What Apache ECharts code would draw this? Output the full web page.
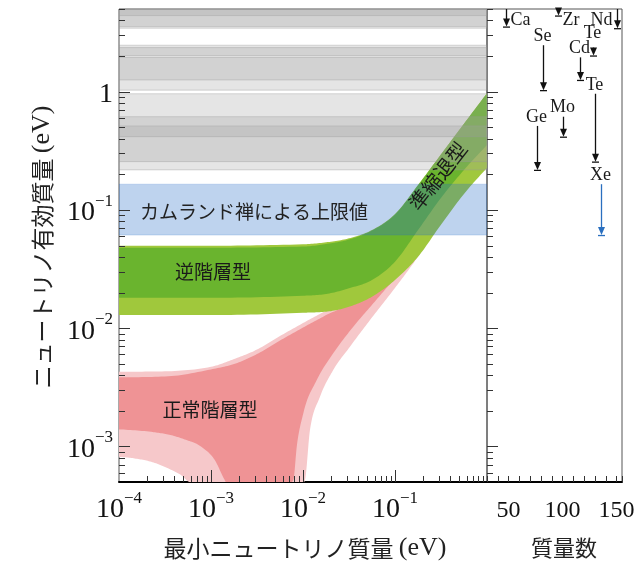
<!DOCTYPE html>
<html><head><meta charset="utf-8">
<script src="https://cdn.jsdelivr.net/npm/echarts@6/dist/echarts.min.js"></script>
<style>html,body{margin:0;padding:0;background:#fff}#c{width:638px;height:563px}</style>
</head><body><div id="c"></div>
<script>
// ---------------- data ----------------
// Inverted hierarchy band (m_lightest [eV], m_bb [eV])
const ihOuterUpper = [[1e-4,0.0498],[1e-3,0.0498],[1e-2,0.0512],[0.0178,0.0532],[0.0316,0.0575],[0.0562,0.0676],[0.1,0.0923],[0.178,0.1626],[0.316,0.295],[0.562,0.536],[1,0.969]];
const ihInnerUpper = [[1e-4,0.0479],[1e-3,0.0479],[1e-2,0.0490],[0.0178,0.0515],[0.0316,0.0562],[0.0562,0.0668],[0.1,0.0912],[0.178,0.1614],[0.316,0.294],[0.562,0.535],[1,0.969]];
const ihInnerLower = [[1e-4,0.01807],[1e-3,0.01807],[1e-2,0.01879],[0.0178,0.01945],[0.0316,0.02173],[0.0562,0.02553],[0.1,0.03648],[0.178,0.0676],[0.316,0.1262],[0.562,0.2178],[1,0.354]];
const ihOuterLower = [[1e-4,0.01291],[1e-3,0.01291],[1e-2,0.01349],[0.0178,0.01377],[0.0316,0.01517],[0.0562,0.01845],[0.1,0.02553],[0.178,0.0402],[0.316,0.0750],[0.562,0.1365],[1,0.226]];
// Normal hierarchy band
const nhOuterUpper = [[1e-4,0.004276],[3.16e-4,0.004315],[1e-3,0.00471],[1.78e-3,0.005478],[3.16e-3,0.006592],[5.62e-3,0.008576],[1e-2,0.011043],[0.0178,0.014088],[0.0316,0.018327],[0.0562,0.0355],[0.1,0.0631],[0.178,0.112],[0.316,0.1995],[0.562,0.355],[1,0.631]];
const nhInnerUpper = [[1e-4,0.003837],[3.16e-4,0.0039],[1e-3,0.004477],[1.78e-3,0.00497],[3.16e-3,0.006038],[5.62e-3,0.007855],[1e-2,0.010118],[0.0178,0.0129],[0.0316,0.016626],[0.0562,0.0331],[0.1,0.0603],[0.178,0.107],[0.316,0.1905],[0.562,0.339],[1,0.603]];
const nhInnerLower = [[1e-4,0.001393],[2.24e-4,0.001327],[3.41e-4,0.001262],[5.18e-4,0.001146],[7.85e-4,0.000993],[1.10e-3,0.000766],[1.41e-3,0.000519],[1.45e-3,0.0005],[7.5e-3,0.0005],[7.85e-3,0.000519],[8.55e-3,0.000993],[1.007e-2,0.001901],[0.0141,0.00364],[0.0213,0.00612],[0.0352,0.01028],[0.0581,0.01622],[0.0959,0.02553],[0.158,0.0402],[0.316,0.0891],[0.562,0.158],[1,0.251]];
const nhOuterLower = [[1e-4,0.000817],[1.48e-4,0.000791],[2.24e-4,0.000741],[3.41e-4,0.000652],[4.75e-4,0.000571],[5.92e-4,0.0005],[1.03e-2,0.0005],[1.05e-2,0.000519],[1.19e-2,0.001374],[0.0153,0.00263],[0.0213,0.00442],[0.0324,0.00697],[0.0535,0.01172],[0.0959,0.0210],[0.158,0.0353],[0.316,0.0776],[0.562,0.141],[1,0.234]];

// Double-beta decay limits per isotope
const isoNames = ['Ca','Ge','Se','Zr','Mo','Cd','Te','Te','Xe','Nd'];
const isoMass  = [48, 76, 82, 96, 100, 116, 128, 130, 136, 150];
const isoUpper = [10, 0.513, 2.47, 10, 0.614, 1.95, 2.36, 0.96, 0.165, 10];
const isoLower = [3.55, 0.218, 1.03, 4.4, 0.416, 1.256, 2.02, 0.256, 0.0613, 3.44];

// tick labels / ticks
const minorMantissas = [2,3,4,5,6,7,8,9];
const xDecades = [1e-4,1e-3,1e-2,1e-1];
const yDecades = [1e-4,1e-3,1e-2,1e-1,1];
const xMajorTicks = [1e-3,1e-2,1e-1];
const yMajorTicks = [1e-3,1e-2,1e-1,1];
const massTickLabels = [50,100,150];

// ---------------- layout / style ----------------
const X_MIN=1e-4, X_MAX=1, Y_MIN=5e-4, Y_MAX=5;
const xMinorTicks = [], yMinorTicks = [];
xDecades.forEach(d=>minorMantissas.forEach(k=>xMinorTicks.push(k*d)));
yDecades.forEach(d=>minorMantissas.forEach(k=>{const v=k*d; if(v>Y_MIN*1.0001 && v<Y_MAX*1.0001) yMinorTicks.push(v);}));

const labelMode = ['right','above','above','right','above','above','above','above','above','left'];
const labelGap  = [0, 9, 9, 0, 9, 9, 14, 8, 9, 0];
const arrowColor = ['#111','#111','#111','#111','#111','#111','#111','#111','#2a6fbf','#111'];
const bandFill = i => (isoNames[i]==='Xe' ? 'rgba(40,110,200,0.30)' : 'rgba(160,160,160,0.28)');

const SERIF = 'Liberation Serif';
const CJK = 'Noto Sans CJK JP';

function isPow10(v){const l=Math.log10(v);return Math.abs(l-Math.round(l))<1e-6;}
function powLabel(v, skipZero){
  const e=Math.round(Math.log10(v));
  if(!isPow10(v)) return '';
  if(e===0) return skipZero ? '' : '{b|1}';
  return '{b|10}{s|\u2212'+(-e)+'}';
}
const richLbl = {
  b:{fontFamily:SERIF,fontSize:28,color:'#111',lineHeight:34,verticalAlign:'bottom'},
  s:{fontFamily:SERIF,fontSize:17,color:'#111',lineHeight:17,verticalAlign:'top'}
};

// monotone cubic smoothing of pixel points (rendering only)
function smoothPts(pts){
  const n=pts.length; if(n<3) return pts.slice();
  const h=[], s=[], t=new Array(n);
  for(let i=0;i<n-1;i++){h[i]=pts[i+1][0]-pts[i][0]; s[i]=h[i]>1e-9?(pts[i+1][1]-pts[i][1])/h[i]:0;}
  for(let i=1;i<n-1;i++){
    const s0=s[i-1], s1=s[i], h0=h[i-1], h1=h[i];
    const p=(s0*h1+s1*h0)/((h0+h1)||1);
    t[i]=(Math.sign(s0)+Math.sign(s1))*Math.min(Math.abs(s0),Math.abs(s1),0.5*Math.abs(p))||0;
  }
  t[0]=(3*s[0]-t[1])/2; t[n-1]=(3*s[n-2]-t[n-2])/2;
  const out=[pts[0]];
  for(let i=0;i<n-1;i++){
    const [x0,y0]=pts[i], [x1,y1]=pts[i+1], hh=h[i];
    const c1=[x0+hh/3, y0+t[i]*hh/3], c2=[x1-hh/3, y1-t[i+1]*hh/3];
    const N=14;
    for(let k=1;k<=N;k++){
      const u=k/N, a=(1-u)*(1-u)*(1-u), b=3*(1-u)*(1-u)*u, c=3*(1-u)*u*u, d=u*u*u;
      out.push([a*x0+b*c1[0]+c*c2[0]+d*x1, a*y0+b*c1[1]+c*c2[1]+d*y1]);
    }
  }
  return out;
}

function polySeries(upper, lower, color, z){
  return {
    type:'custom', xAxisIndex:0, yAxisIndex:0, z:z, silent:true, clip:true,
    data:[[upper[0][0], upper[0][1]]],
    renderItem:function(params, api){
      const up = smoothPts(upper.map(p=>api.coord(p)));
      const lo = smoothPts(lower.map(p=>api.coord(p))).reverse();
      return {type:'polygon', shape:{points:up.concat(lo)}, style:{fill:color}};
    }
  };
}

function tickSeries(xi, values, dir, len, z){
  return {
    type:'custom', xAxisIndex:xi, yAxisIndex:xi, z:z, silent:true, clip:false,
    data: values.map(v=> dir==='x' ? [v, 1] : [xi===0?1e-2:100, v]),
    renderItem:function(params, api){
      const cs = params.coordSys;
      const p = api.coord([api.value(0), api.value(1)]);
      if(dir==='x'){
        const b = cs.y+cs.height, x=Math.round(p[0])+0.5;
        return {type:'line', shape:{x1:x,y1:b,x2:x,y2:b-len}, style:{stroke:'#333',lineWidth:1}};
      } else {
        const y = Math.round(p[1])+0.5;
        return {type:'line', shape:{x1:cs.x,y1:y,x2:cs.x+len,y2:y}, style:{stroke:'#333',lineWidth:1}};
      }
    }
  };
}

const series = [
  polySeries(nhOuterUpper, nhOuterLower, '#f6c8ca', 1),
  polySeries(nhInnerUpper, nhInnerLower, '#ef9395', 2),
  polySeries(ihOuterUpper, ihOuterLower, '#a0c83c', 3),
  polySeries(ihInnerUpper, ihInnerLower, '#6ab42e', 4),
  {
    type:'custom', xAxisIndex:0, yAxisIndex:0, z:5, silent:true, clip:true,
    data: isoMass.map((m,i)=>[1e-2, isoLower[i], isoUpper[i], i]),
    renderItem:function(params, api){
      const cs = params.coordSys;
      const yLo = api.coord([1e-2, api.value(1)])[1];
      const yHi = Math.max(api.coord([1e-2, Math.min(api.value(2), Y_MAX)])[1], cs.y);
      const i = api.value(3);
      return {type:'rect', shape:{x:cs.x, y:yHi, width:cs.width, height:yLo-yHi},
        style:{fill:bandFill(i), stroke: isoNames[i]==='Xe' ? 'rgba(40,110,200,0.25)' : 'rgba(150,150,150,0.45)', lineWidth:0.8}};
    }
  },
  {
    type:'custom', xAxisIndex:1, yAxisIndex:1, z:6, silent:true, clip:false,
    data: isoMass.map((m,i)=>[m, isoLower[i], isoUpper[i], i]),
    renderItem:function(params, api){
      const cs = params.coordSys;
      const pLo = api.coord([api.value(0), api.value(1)]);
      const x = Math.round(pLo[0])+0.5, yLo = pLo[1];
      const yHi = Math.max(api.coord([api.value(0), Math.min(api.value(2), Y_MAX)])[1], cs.y);
      const i = api.value(3);
      const col = arrowColor[i];
      const children = [
        {type:'line', shape:{x1:x,y1:yHi,x2:x,y2:yLo-4}, style:{stroke:col,lineWidth:1.3}},
        {type:'polygon', shape:{points:[[x-3.5,yLo-8],[x+3.5,yLo-8],[x,yLo]]}, style:{fill:col}},
        {type:'line', shape:{x1:x-3.5,y1:yLo+0.5,x2:x+3.5,y2:yLo+0.5}, style:{stroke:col,lineWidth:1.3}}
      ];
      let tx, ty, align;
      if(labelMode[i]==='right'){ tx=x+4; ty=cs.y+11; align='left'; }
      else if(labelMode[i]==='left'){ tx=x-5; ty=cs.y+11; align='right'; }
      else { tx=x-1; ty=yHi-labelGap[i]; align='center'; }
      children.push({type:'text', style:{text:isoNames[i], x:tx, y:ty, align:align, verticalAlign:'middle',
        fontFamily:SERIF, fontSize:18, fill:'#1a1a1a'}});
      return {type:'group', children:children};
    }
  },
  tickSeries(0, xMinorTicks, 'x', 6, 10),
  tickSeries(0, xMajorTicks, 'x', 12, 10),
  tickSeries(0, yMinorTicks, 'y', 6, 10),
  tickSeries(0, yMajorTicks, 'y', 11, 10),
  tickSeries(1, yMinorTicks, 'y', 6, 10),
  tickSeries(1, yMajorTicks, 'y', 11, 10)
];

const option = {
  animation:false,
  backgroundColor:'#fff',
  grid:[
    {left:119, top:9, width:368, height:473, show:true, borderColor:'#555', borderWidth:1, backgroundColor:'transparent'},
    {left:487, top:9, width:135, height:473, show:true, borderColor:'#555', borderWidth:1, backgroundColor:'transparent'}
  ],
  xAxis:[
    {type:'log', logBase:10, gridIndex:0, min:X_MIN, max:X_MAX,
     axisLine:{show:true,onZero:false,lineStyle:{color:'#000',width:2}}, axisTick:{show:false}, splitLine:{show:false},
     axisLabel:{margin:8, formatter:v=>powLabel(v,true), rich:richLbl}},
    {type:'value', gridIndex:1, min:30, max:155, interval:10,
     axisLine:{show:true,onZero:false,lineStyle:{color:'#000',width:2}},
     axisTick:{show:true,inside:true,length:6,lineStyle:{color:'#333'}}, splitLine:{show:false},
     axisLabel:{margin:17, fontFamily:SERIF, fontSize:24, color:'#111', showMinLabel:true, showMaxLabel:true,
       formatter:v=> massTickLabels.indexOf(v)>=0 ? String(v) : ''}}
  ],
  yAxis:[
    {type:'log', logBase:10, gridIndex:0, min:Y_MIN, max:Y_MAX,
     axisLine:{show:false}, axisTick:{show:false}, splitLine:{show:false},
     axisLabel:{margin:6, formatter:v=>powLabel(v,false), rich:richLbl}},
    {type:'log', logBase:10, gridIndex:1, min:Y_MIN, max:Y_MAX,
     axisLine:{show:false}, axisTick:{show:false}, splitLine:{show:false}, axisLabel:{show:false}}
  ],
  graphic:[
    {type:'text', z:50, style:{text:'カムランド禅による上限値', x:254, y:212, align:'center', verticalAlign:'middle', fontFamily:CJK, fontSize:19, fill:'#222'}},
    {type:'text', z:50, style:{text:'逆階層型', x:213, y:272, align:'center', verticalAlign:'middle', fontFamily:CJK, fontSize:19, fill:'#1a1a1a'}},
    {type:'text', z:50, style:{text:'正常階層型', x:210, y:410, align:'center', verticalAlign:'middle', fontFamily:CJK, fontSize:19, fill:'#1a1a1a'}},
    {type:'text', z:50, x:438, y:176, rotation:52*Math.PI/180, style:{text:'準縮退型', x:0, y:0, align:'center', verticalAlign:'middle', fontFamily:CJK, fontSize:20, fill:'#1a1a1a'}},
    {type:'text', z:50, style:{text:'{a|最小ニュートリノ質量 }{b|(eV)}', x:305, y:548, align:'center', verticalAlign:'middle',
      rich:{a:{fontFamily:CJK,fontSize:23,fill:'#222',color:'#222'}, b:{fontFamily:SERIF,fontSize:26,fill:'#222',color:'#222'}}}},
    {type:'text', z:50, style:{text:'質量数', x:564, y:548, align:'center', verticalAlign:'middle', fontFamily:CJK, fontSize:22, fill:'#222'}},
    {type:'text', z:50, x:42, y:247, rotation:Math.PI/2, style:{text:'{a|ニュートリノ有効質量 }{b|(eV)}', x:0, y:0, align:'center', verticalAlign:'middle',
      rich:{a:{fontFamily:CJK,fontSize:23,fill:'#222',color:'#222'}, b:{fontFamily:SERIF,fontSize:26,fill:'#222',color:'#222'}}}}
  ],
  series:series
};
const chart = echarts.init(document.getElementById('c'), null, {renderer:'canvas'});
chart.setOption(option);
</script></body></html>
